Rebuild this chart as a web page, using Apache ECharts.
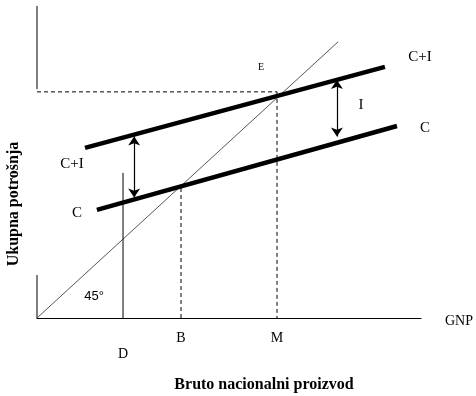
<!DOCTYPE html>
<html><head><meta charset="utf-8">
<script src="https://cdn.jsdelivr.net/npm/echarts@6/dist/echarts.min.js"></script>
<style>html,body{margin:0;padding:0;background:#fff}#c{width:476px;height:396px}</style>
</head><body><div id="c"></div>
<script>
// Data (economic units: GNP on x, total spending on y)
const line45 = [[0, 0], [78.4, 78.4]];
const consumption = [[15.6, 30.7], [93.75, 54.5]];        // C
const consInvest = [[12.5, 48.3], [90.6, 71.3]];          // C+I
const yAxisSegments = [[[0, 0], [0, 12.2]], [[0, 65], [0, 88.6]]];
const eqX = 62.5, eqY = 64.2;      // E / M
const bX = 37.5, bTop = 36.9;      // B
const dX = 22.4, dTop = 41.2;      // D
const investArrows = [[[25.3, 51.5], [25.3, 34.2]], [[78.1, 67.6], [78.1, 51.5]]];
const tickNames = ['D', 'B', 'M'];
const tickValues = [dX, bX, eqX];

const serif = "'Liberation Serif','Times New Roman',serif";
const chart = echarts.init(document.getElementById('c'));

const series = [];
yAxisSegments.forEach(seg => series.push({
  type: 'line', data: seg, symbol: 'none', silent: true,
  lineStyle: { color: '#000', width: 1 }
}));
series.push({ type: 'line', data: line45, symbol: 'none', lineStyle: { color: '#555', width: 1 } });
series.push({ type: 'line', data: [[0, eqY], [eqX, eqY]], symbol: 'none', lineStyle: { color: '#000', width: 1, type: [4, 3] } });
series.push({ type: 'line', data: [[eqX, eqY], [eqX, 0]], symbol: 'none', lineStyle: { color: '#000', width: 1, type: [4, 3] } });
series.push({ type: 'line', data: [[bX, bTop], [bX, 0]], symbol: 'none', lineStyle: { color: '#000', width: 1, type: [4, 3] } });
series.push({ type: 'line', data: [[dX, dTop], [dX, 0]], symbol: 'none', lineStyle: { color: '#000', width: 1 } });
series.push({ type: 'line', data: consInvest, symbol: 'none', lineStyle: { color: '#000', width: 4.5, cap: 'butt' } });
series.push({ type: 'line', data: consumption, symbol: 'none', lineStyle: { color: '#000', width: 4.5, cap: 'butt' } });
series.push({
  type: 'lines', coordinateSystem: 'cartesian2d',
  symbol: ['arrow', 'arrow'], symbolSize: 9,
  lineStyle: { color: '#000', width: 1.2, opacity: 1 },
  data: investArrows.map(c => ({ coords: c }))
});

const txt = (x, y, text, size, font, weight) => ({
  type: 'text', x, y,
  style: { text, fill: '#000', font: (weight || 'normal') + ' ' + size + 'px ' + font, align: 'center', verticalAlign: 'middle' }
});

chart.setOption({
  animation: false,
  grid: { left: 37, right: 55, bottom: 78, top: 1 },
  xAxis: {
    type: 'value', min: 0, max: 100,
    axisLine: { show: true, lineStyle: { color: '#000', width: 1 } },
    axisTick: { show: false }, splitLine: { show: false },
    axisLabel: {
      show: true, customValues: tickValues, margin: 13,
      formatter: v => { const i = tickValues.indexOf(v); return i === 0 ? '{d|' + tickNames[i] + '}' : (i > 0 ? tickNames[i] : ''); },
      fontFamily: serif, fontSize: 14, color: '#000',
      rich: { d: { fontFamily: serif, fontSize: 14, color: '#000', padding: [16, 0, 0, 0] } }
    }
  },
  yAxis: { type: 'value', min: 0, max: 90, show: false },
  series,
  graphic: [
    txt(261, 67, 'E', 10, serif),
    txt(420, 57, 'C+I', 15, serif),
    txt(361, 105, 'I', 15, serif),
    txt(425, 128, 'C', 15, serif),
    txt(72, 164, 'C+I', 15, serif),
    txt(77, 213, 'C', 15, serif),
    txt(94, 296, '45°', 13, "'Liberation Sans',Arial,sans-serif"),
    txt(459, 321, 'GNP', 14, serif),
    txt(264, 385, 'Bruto nacionalni proizvod', 16, serif, 'bold'),
    { type: 'text', x: 14, y: 204, rotation: Math.PI / 2,
      style: { text: 'Ukupna potrošnja', fill: '#000', font: 'bold 16px ' + serif, align: 'center', verticalAlign: 'middle' } }
  ]
});
</script></body></html>
